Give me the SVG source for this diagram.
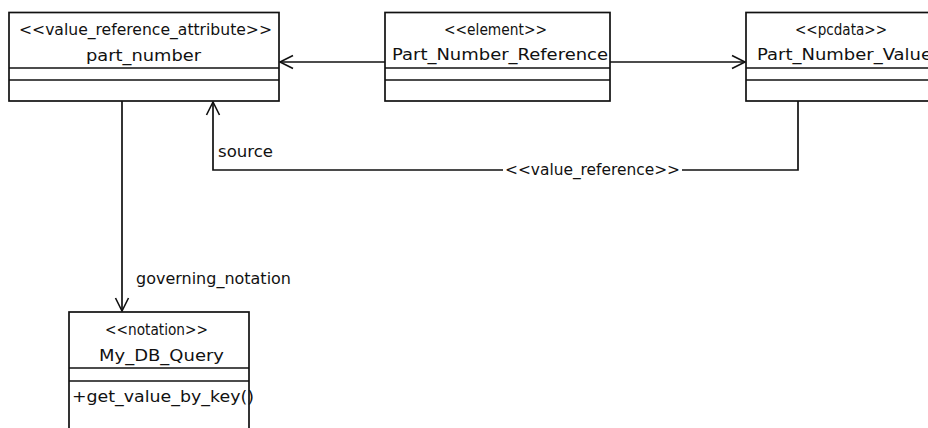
<svg xmlns="http://www.w3.org/2000/svg" width="928" height="428" viewBox="0 0 928 428">
<style>
.box{fill:#fff;stroke:#111;stroke-width:1.7}
.div{stroke:#111;stroke-width:1.7}
.t{font-family:"DejaVu Sans","Liberation Sans",sans-serif;font-size:16.5px;fill:#111}
.s{font-size:15px}
.conn{fill:none;stroke:#111;stroke-width:1.7}
</style>
<defs>
<marker id="open" markerUnits="userSpaceOnUse" markerWidth="16" markerHeight="16" viewBox="0 0 16 16" refX="14" refY="8" orient="auto">
<path d="M1,1.5 L14,8 L1,14.5" fill="none" stroke="#111" stroke-width="1.6"/>
</marker>
</defs>
<rect width="928" height="428" fill="#fff"/>
<g id="connectors">
<path class="conn" d="M385,62 H280" marker-end="url(#open)"/>
<path class="conn" d="M610,62 H745" marker-end="url(#open)"/>
<path class="conn" d="M798,101 V170 H213 V102" marker-end="url(#open)"/>
<path class="conn" d="M122,101 V311" marker-end="url(#open)"/>
<rect x="503" y="160" width="179" height="20" fill="#fff"/>
<text class="t s" x="505" y="175" textLength="175" lengthAdjust="spacingAndGlyphs">&lt;&lt;value_reference&gt;&gt;</text>
<text class="t" x="218" y="157" textLength="55" lengthAdjust="spacingAndGlyphs">source</text>
<text class="t" x="136" y="284" textLength="155" lengthAdjust="spacingAndGlyphs">governing_notation</text>
</g>
<g id="part_number">
<rect class="box" x="9" y="12.5" width="270" height="88.5"/>
<line class="div" x1="9" y1="68" x2="279" y2="68"/>
<line class="div" x1="9" y1="80" x2="279" y2="80"/>
<text class="t s" x="19" y="35" textLength="253" lengthAdjust="spacingAndGlyphs">&lt;&lt;value_reference_attribute&gt;&gt;</text>
<text class="t" x="86" y="61" textLength="115" lengthAdjust="spacingAndGlyphs">part_number</text>
</g>
<g id="Part_Number_Reference">
<rect class="box" x="385" y="12.5" width="225" height="88.5"/>
<line class="div" x1="385" y1="68" x2="610" y2="68"/>
<line class="div" x1="385" y1="80" x2="610" y2="80"/>
<text class="t s" x="444" y="35" textLength="103" lengthAdjust="spacingAndGlyphs">&lt;&lt;element&gt;&gt;</text>
<text class="t" x="392" y="60" textLength="216" lengthAdjust="spacingAndGlyphs">Part_Number_Reference</text>
</g>
<g id="Part_Number_Value">
<rect class="box" x="746" y="12.5" width="198" height="88.5"/>
<line class="div" x1="746" y1="68" x2="944" y2="68"/>
<line class="div" x1="746" y1="80" x2="944" y2="80"/>
<text class="t s" x="795" y="35" textLength="92" lengthAdjust="spacingAndGlyphs">&lt;&lt;pcdata&gt;&gt;</text>
<text class="t" x="757" y="60" textLength="175" lengthAdjust="spacingAndGlyphs">Part_Number_Value</text>
</g>
<g id="My_DB_Query">
<rect class="box" x="69" y="312" width="180" height="130"/>
<line class="div" x1="69" y1="368" x2="249" y2="368"/>
<line class="div" x1="69" y1="381" x2="249" y2="381"/>
<text class="t s" x="105" y="335" textLength="103" lengthAdjust="spacingAndGlyphs">&lt;&lt;notation&gt;&gt;</text>
<text class="t" x="99" y="361" textLength="125" lengthAdjust="spacingAndGlyphs">My_DB_Query</text>
<text class="t" x="72" y="402" textLength="182" lengthAdjust="spacingAndGlyphs">+get_value_by_key()</text>
</g>
</svg>
